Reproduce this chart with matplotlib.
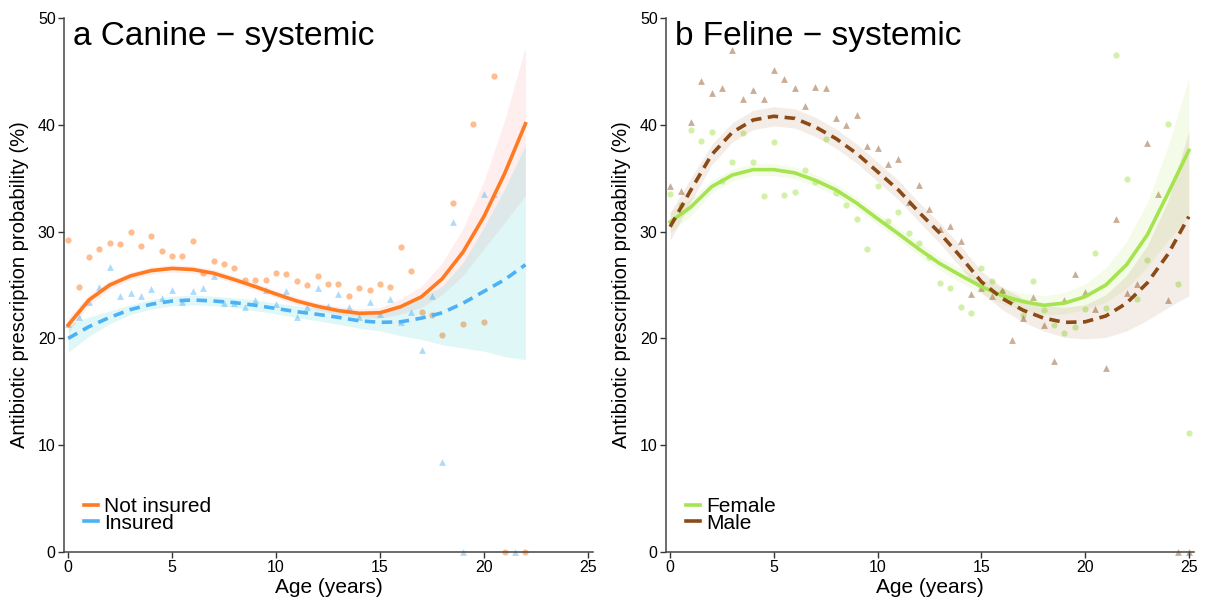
import numpy as np
import matplotlib
matplotlib.use("Agg")
import matplotlib.pyplot as plt
from matplotlib.lines import Line2D

plt.rcParams['font.family'] = ['Liberation Sans', 'DejaVu Sans']

# ---------------- Canine data ----------------
can_age_notins = [0, 0.5, 1, 1.5, 2, 2.5, 3, 3.5, 4, 4.5, 5, 5.5, 6, 6.5, 7, 7.5, 8, 8.5, 9, 9.5,
                  10, 10.5, 11, 11.5, 12, 12.5, 13, 13.5, 14, 14.5, 15, 15.5, 16, 16.5, 17, 17.5,
                  18, 18.5, 19, 19.5, 20, 20.5, 21, 22]
can_val_notins = [29.2, 24.8, 27.65, 28.4, 28.96, 28.87, 29.93, 28.65, 29.6, 28.15, 27.7, 27.7, 29.15,
                  26.1, 27.25, 26.97, 26.6, 25.5, 25.5, 25.5, 26.15, 26.0, 25.4, 25.0, 25.8, 25.1, 25.1,
                  24.0, 24.7, 24.5, 25.05, 24.8, 28.55, 26.3, 22.5, 22.2, 20.3, 32.65, 21.35, 40.1,
                  21.5, 44.6, 0, 0]
can_age_ins = [0, 0.5, 1, 1.5, 2, 2.5, 3, 3.5, 4, 4.5, 5, 5.5, 6, 6.5, 7, 7.5, 8, 8.5, 9, 9.5,
               10, 10.5, 11, 11.5, 12, 12.5, 13, 13.5, 14, 14.5, 15, 15.5, 16, 16.5, 17, 17.5,
               18, 18.5, 19, 20, 20.5, 21.5]
can_val_ins = [21.35, 21.97, 23.4, 24.8, 26.7, 24.0, 24.25, 24.0, 24.65, 23.8, 24.5, 23.4, 24.4, 24.7,
               25.8, 23.3, 23.3, 22.9, 23.6, 24.5, 23.2, 24.4, 22.0, 22.9, 24.75, 23.0, 24.2, 22.9,
               21.97, 23.4, 22.3, 23.65, 21.5, 22.5, 18.9, 24.0, 8.4, 30.9, 0, 33.5, 33.5, 0]

can_fit_age = list(range(0, 23))
can_fit_notins = [21.25, 23.6, 25.0, 25.85, 26.35, 26.55, 26.45, 26.1, 25.5, 24.85, 24.15, 23.5, 23.0,
                  22.6, 22.35, 22.4, 22.97, 23.9, 25.6, 28.1, 31.4, 35.45, 40.1]
can_lo_notins = [20.55, 23.1, 24.6, 25.5, 26.0, 26.2, 26.1, 25.75, 25.15, 24.5, 23.8, 23.15, 22.65,
                 22.25, 21.95, 21.9, 22.27, 22.9, 24.1, 25.9, 28.4, 30.85, 33.4]
can_hi_notins = [21.95, 24.1, 25.4, 26.2, 26.7, 26.9, 26.8, 26.45, 25.85, 25.2, 24.5, 23.85, 23.35,
                 22.95, 22.75, 22.9, 23.67, 24.9, 27.1, 30.3, 34.7, 40.45, 47.3]
can_fit_ins = [20.0, 21.1, 21.97, 22.7, 23.2, 23.5, 23.6, 23.5, 23.35, 23.1, 22.8, 22.5, 22.25, 21.97,
               21.65, 21.5, 21.55, 21.9, 22.4, 23.3, 24.4, 25.5, 26.9]
can_lo_ins = [18.7, 20.2, 21.37, 22.25, 22.75, 23.05, 23.15, 23.05, 22.9, 22.6, 22.3, 21.95, 21.65,
              21.32, 20.95, 20.7, 20.25, 19.9, 19.4, 19.1, 18.8, 18.3, 18.0]
can_hi_ins = [21.3, 22.0, 22.57, 23.15, 23.65, 23.95, 24.05, 23.95, 23.8, 23.6, 23.3, 23.05, 22.85,
              22.62, 22.35, 22.4, 22.85, 23.8, 24.9, 27.1, 30.4, 34.0, 38.1]

# ---------------- Feline data ----------------
fel_age_f = [0, 0.5, 1, 1.5, 2, 2.5, 3, 3.5, 4, 4.5, 5, 5.5, 6, 6.5, 7, 7.5, 8, 8.5, 9, 9.5,
             10, 10.5, 11, 11.5, 12, 12.5, 13, 13.5, 14, 14.5, 15, 15.5, 16, 16.5, 17, 17.5,
             18, 18.5, 19, 19.5, 20, 20.5, 21, 21.5, 22, 22.5, 23, 24, 24.5, 25]
fel_val_f = [33.5, 32.5, 39.5, 38.5, 39.35, 34.7, 36.5, 39.2, 36.5, 33.3, 38.4, 33.4, 33.7, 35.8,
             34.6, 38.7, 33.65, 32.5, 31.2, 28.4, 34.3, 30.95, 31.8, 29.9, 28.96, 27.6, 25.2, 24.7,
             22.97, 22.4, 26.55, 25.4, 24.3, 23.6, 22.2, 25.4, 22.65, 21.3, 20.5, 21.1, 22.75, 28.0,
             22.85, 46.5, 34.9, 23.7, 27.35, 40.1, 25.07, 11.1]
fel_age_m = [0, 0.5, 1, 1.5, 2, 2.5, 3, 3.5, 4, 4.5, 5, 5.5, 6, 6.5, 7, 7.5, 8, 8.5, 9, 9.5,
             10, 10.5, 11, 11.5, 12, 12.5, 13, 13.5, 14, 14.5, 15, 15.5, 16, 16.5, 17, 17.5,
             18, 18.5, 19, 19.5, 20, 20.5, 21, 21.5, 22, 22.5, 23, 23.5, 24, 24.5, 25]
fel_val_m = [34.27, 33.8, 40.3, 44.1, 42.95, 43.4, 47.0, 42.45, 43.3, 42.4, 45.1, 44.3, 43.4, 41.8,
             43.5, 43.4, 40.6, 40.0, 40.95, 38.0, 37.8, 36.3, 36.8, 32.8, 34.4, 32.1, 30.2, 30.5,
             29.15, 24.2, 24.7, 24.0, 24.5, 19.85, 21.95, 23.85, 21.3, 17.9, 23.55, 26.0, 24.3,
             22.75, 17.25, 31.2, 24.25, 25.1, 38.25, 33.5, 23.6, 0, 0]

fel_fit_age = list(range(0, 26))
fel_fit_f = [30.9, 32.3, 34.2, 35.3, 35.8, 35.8, 35.5, 34.8, 33.9, 32.65, 31.2, 29.8, 28.35, 27.0,
             25.9, 24.85, 24.0, 23.45, 23.1, 23.3, 23.9, 25.0, 26.9, 29.7, 33.6, 37.6]
fel_lo_f = [29.9, 31.5, 33.6, 34.75, 35.25, 35.25, 34.95, 34.25, 33.35, 32.1, 30.65, 29.25, 27.75,
            26.4, 25.25, 24.15, 23.25, 22.65, 22.2, 22.3, 22.7, 23.4, 24.7, 26.7, 29.2, 31.4]
fel_hi_f = [31.9, 33.1, 34.8, 35.85, 36.35, 36.35, 36.05, 35.35, 34.45, 33.2, 31.75, 30.35, 28.95,
            27.6, 26.55, 25.55, 24.75, 24.25, 24.0, 24.3, 25.1, 26.6, 29.1, 32.7, 38.0, 44.35]
fel_fit_m = [30.45, 33.9, 37.2, 39.3, 40.45, 40.8, 40.6, 39.8, 38.7, 37.3, 35.6, 33.9, 31.8, 29.85,
             27.65, 25.3, 23.75, 22.65, 21.9, 21.5, 21.55, 22.1, 23.3, 25.2, 27.9, 31.4]
fel_lo_m = [29.15, 32.8, 36.25, 38.4, 39.55, 39.9, 39.7, 38.9, 37.8, 36.4, 34.7, 33.0, 30.9, 28.9,
            26.65, 24.3, 22.7, 21.55, 20.7, 20.1, 19.95, 20.1, 20.7, 21.7, 22.9, 24.0]
fel_hi_m = [31.75, 35.0, 38.15, 40.2, 41.35, 41.7, 41.5, 40.7, 39.6, 38.2, 36.5, 34.8, 32.7, 30.8,
            28.65, 26.3, 24.8, 23.75, 23.1, 22.9, 23.15, 24.1, 25.9, 28.7, 32.9, 39.4]

x_ticks = [0, 5, 10, 15, 20, 25]
y_ticks = [0, 10, 20, 30, 40, 50]

# colours
ORANGE = '#FF7A21'
BLUE = '#4DB1F5'
GREEN = '#A5E44F'
BROWN = '#8B4A16'
FILL_PINK = '#F8766D'
FILL_CYAN = '#00BFC4'

fig = plt.figure(figsize=(12.1, 6.1), dpi=100)
axL = fig.add_axes([0.0529, 0.0951, 0.4372, 0.8754])
axR = fig.add_axes([0.5504, 0.0951, 0.4364, 0.8754])


def style(ax):
    ax.set_xlim(-0.2, 25.25)
    ax.set_ylim(0, 50)
    ax.set_xticks(x_ticks)
    ax.set_yticks(y_ticks)
    for s in ['top', 'right']:
        ax.spines[s].set_visible(False)
    for s in ['left', 'bottom']:
        ax.spines[s].set_color('#444444')
        ax.spines[s].set_linewidth(1.1)
    ax.tick_params(axis='both', direction='out', length=4, width=1.0, color='#333333',
                   labelsize=11.5, labelcolor='black', pad=2)
    ax.set_xlabel('Age (years)', fontsize=15, labelpad=2)
    ax.set_ylabel('Antibiotic prescription probability (%)', fontsize=14.5, labelpad=6)
    ax.patch.set_alpha(0)


def add_legend(ax, handles, labels):
    ax.legend(handles, labels, loc='lower left', bbox_to_anchor=(0.037, 0.036),
              frameon=False, fontsize=15, handlelength=0.7, handletextpad=0.3,
              labelspacing=-0.1, borderpad=0, borderaxespad=0)


# ---- Left panel ----
axL.scatter(can_age_notins, can_val_notins, s=20, marker='o', color=ORANGE, alpha=0.5,
            linewidths=0, zorder=2, clip_on=False)
axL.scatter(can_age_ins, can_val_ins, s=24, marker='^', color=BLUE, alpha=0.45,
            linewidths=0, zorder=2, clip_on=False)
axL.fill_between(can_fit_age, can_lo_notins, can_hi_notins, color=FILL_PINK, alpha=0.12,
                 linewidth=0, zorder=3)
axL.fill_between(can_fit_age, can_lo_ins, can_hi_ins, color=FILL_CYAN, alpha=0.12,
                 linewidth=0, zorder=3)
axL.plot(can_fit_age, can_fit_notins, color=ORANGE, lw=2.6, zorder=4, solid_joinstyle='round')
axL.plot(can_fit_age, can_fit_ins, color=BLUE, lw=2.6, dashes=(2.9, 1.8), zorder=4)
style(axL)
axL.text(0.017, 0.949, 'a Canine \u2212 systemic', transform=axL.transAxes, fontsize=24,
         ha='left', va='baseline')
add_legend(axL, [Line2D([], [], color=ORANGE, lw=2.6), Line2D([], [], color=BLUE, lw=2.6)],
           ['Not insured', 'Insured'])

# ---- Right panel ----
axR.scatter(fel_age_f, fel_val_f, s=20, marker='o', color=GREEN, alpha=0.5,
            linewidths=0, zorder=2, clip_on=False)
axR.scatter(fel_age_m, fel_val_m, s=24, marker='^', color=BROWN, alpha=0.45,
            linewidths=0, zorder=2, clip_on=False)
axR.fill_between(fel_fit_age, fel_lo_f, fel_hi_f, color=GREEN, alpha=0.12, linewidth=0, zorder=3)
axR.fill_between(fel_fit_age, fel_lo_m, fel_hi_m, color=BROWN, alpha=0.1, linewidth=0, zorder=3)
axR.plot(fel_fit_age, fel_fit_f, color=GREEN, lw=2.6, zorder=4, solid_joinstyle='round')
axR.plot(fel_fit_age, fel_fit_m, color=BROWN, lw=2.6, dashes=(2.9, 1.8), zorder=4)
style(axR)
axR.text(0.017, 0.949, 'b Feline \u2212 systemic', transform=axR.transAxes, fontsize=24,
         ha='left', va='baseline')
add_legend(axR, [Line2D([], [], color=GREEN, lw=2.6), Line2D([], [], color=BROWN, lw=2.6)],
           ['Female', 'Male'])

fig.savefig('out.png', dpi=100)
